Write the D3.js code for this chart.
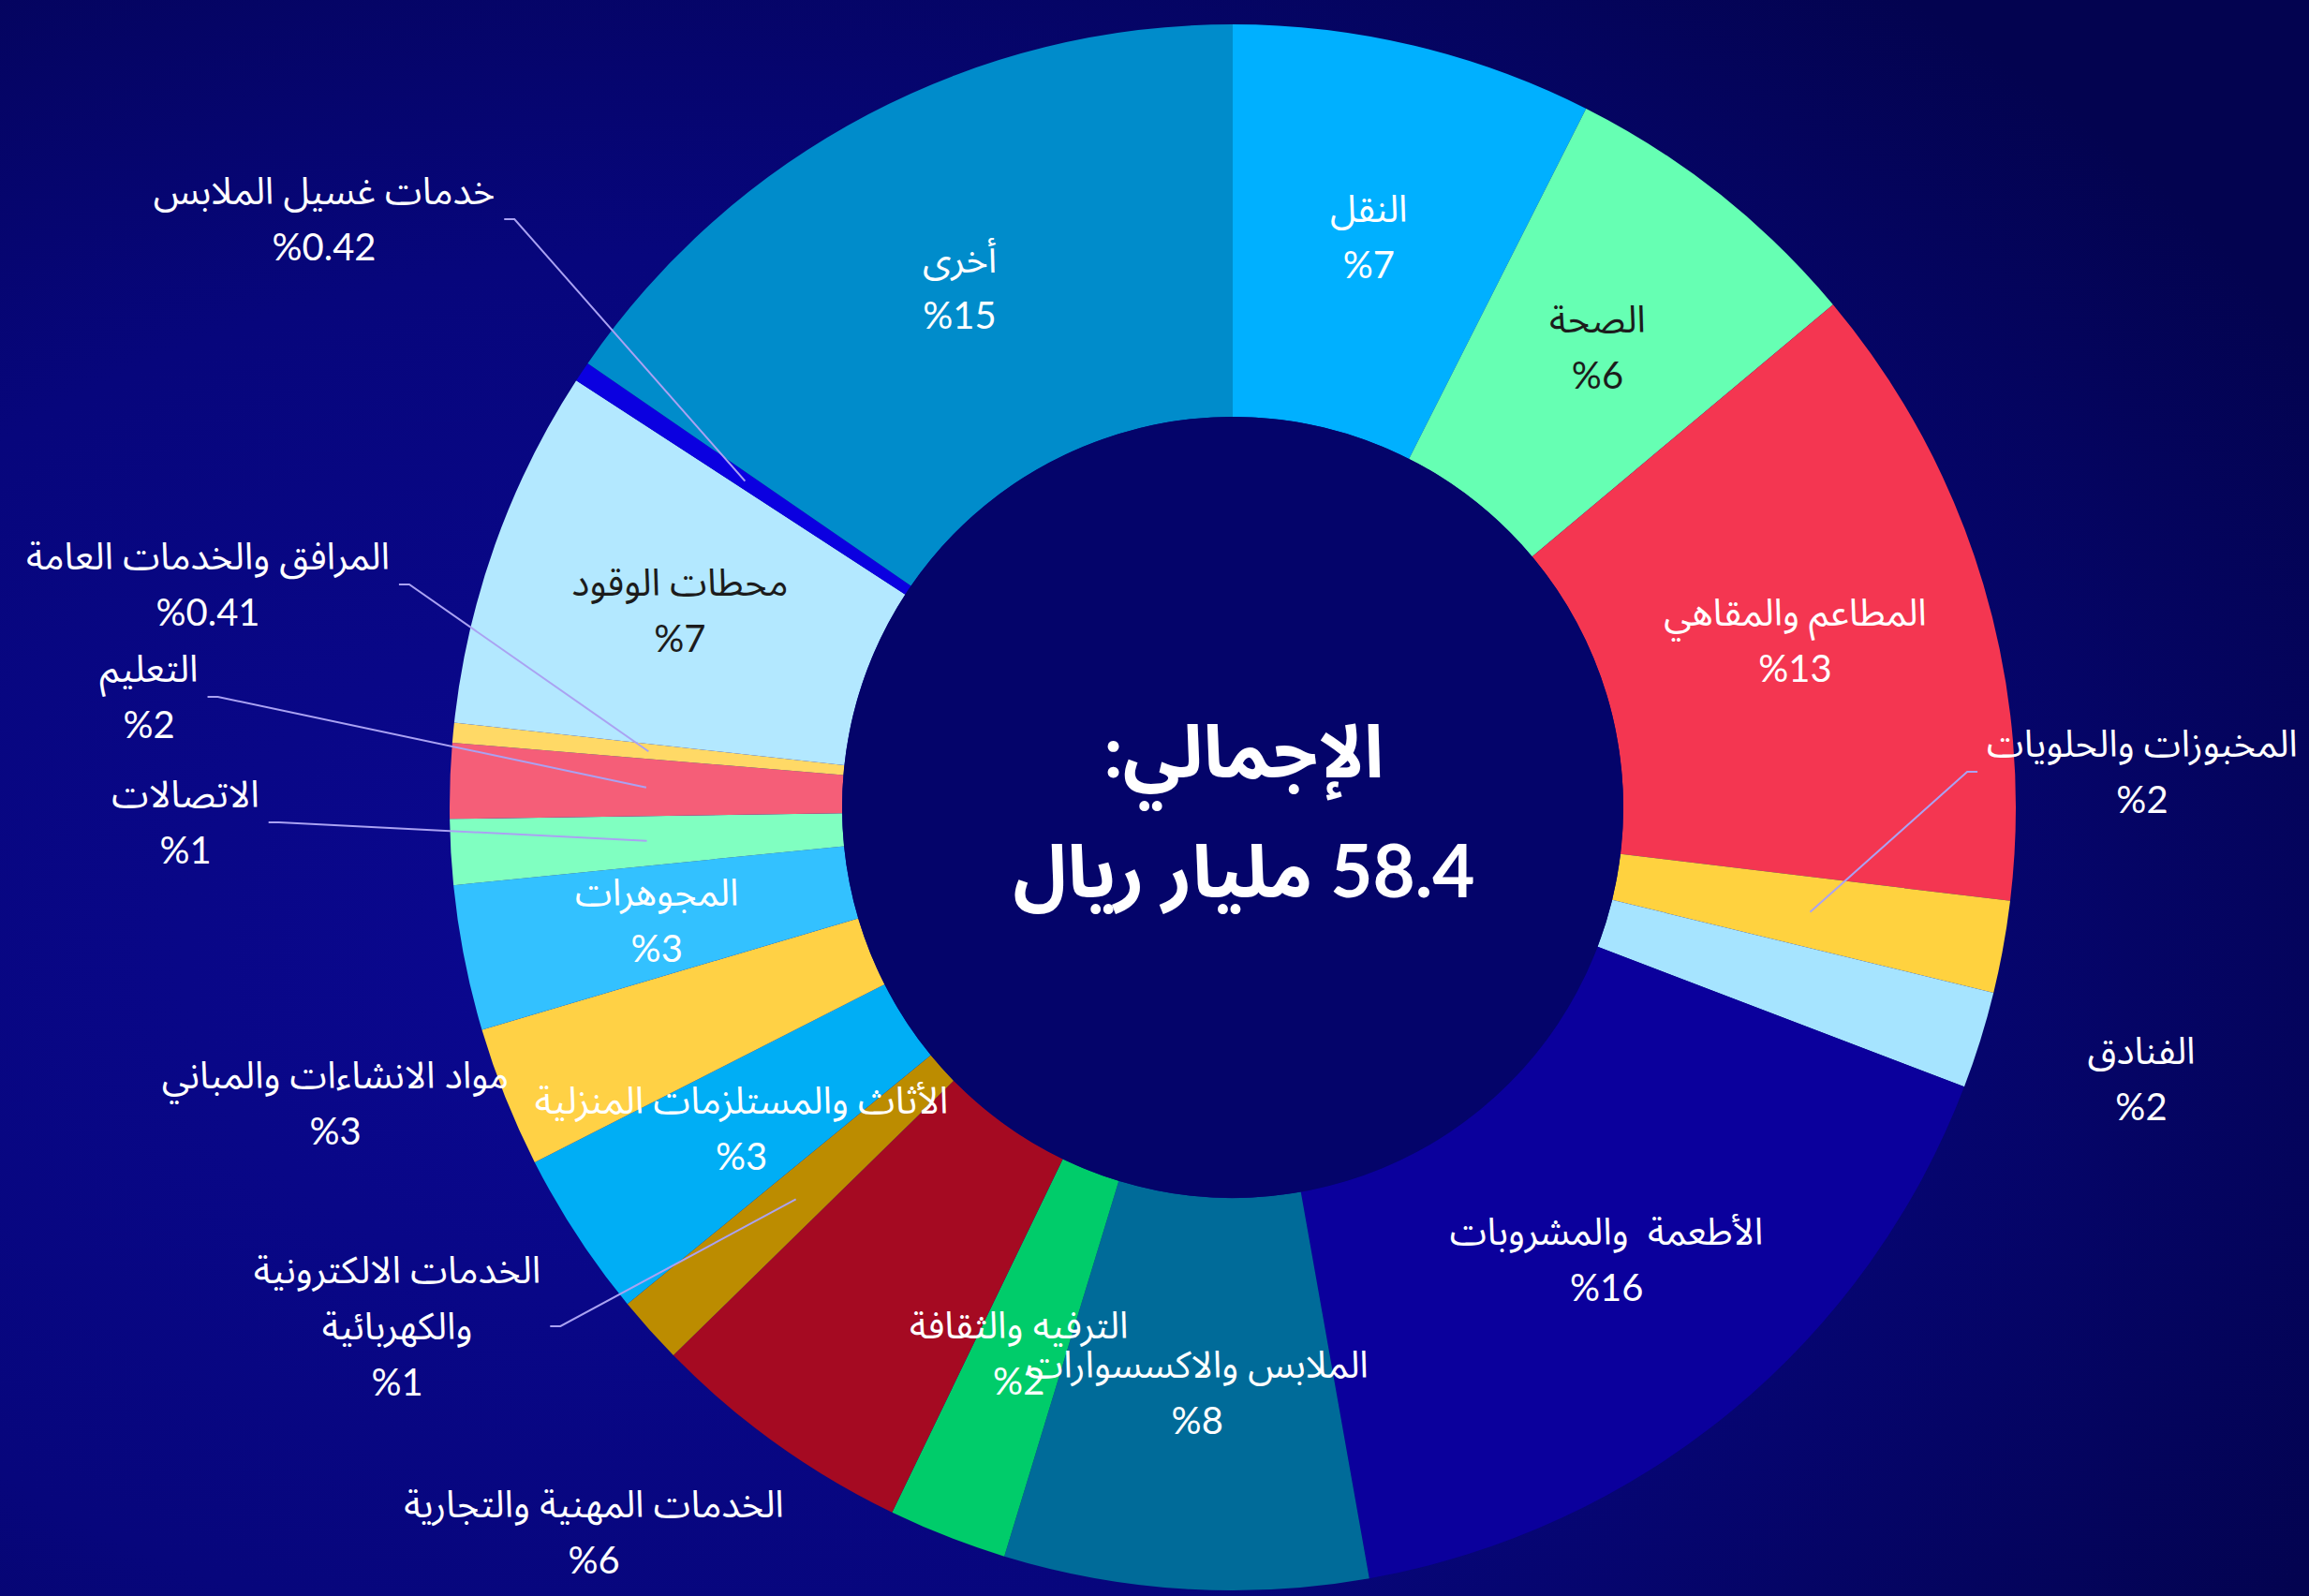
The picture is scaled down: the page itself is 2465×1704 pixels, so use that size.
<!DOCTYPE html>
<html lang="ar">
<head>
<meta charset="utf-8">
<script src="https://cdn.jsdelivr.net/npm/d3@7"></script>
<style>
  html, body { margin: 0; padding: 0; background: #05056e; overflow: hidden; }
  svg { display: block; }
  text { font-family: Lato, "Noto Sans Arabic", "DejaVu Sans", sans-serif; white-space: pre; }
</style>
</head>
<body>
<svg id="chart"></svg>
<script>
// sectors, clockwise from 12 o'clock
var sectors = [
  "النقل", "الصحة", "المطاعم والمقاهي", "المخبوزات والحلويات", "الفنادق",
  "الأطعمة  والمشروبات", "الملابس والاكسسوارات", "الترفيه والثقافة",
  "الخدمات المهنية والتجارية", "الخدمات الالكترونية والكهربائية",
  "الأثاث والمستلزمات المنزلية", "مواد الانشاءات والمباني", "المجوهرات",
  "الاتصالات", "التعليم", "المرافق والخدمات العامة", "محطات الوقود",
  "خدمات غسيل الملابس", "أخرى"
];
// share of total spending (%)
var shares = [7.45, 6.45, 13.0, 1.9, 2.0, 16.4, 7.5, 2.45, 5.5, 1.4, 3.45, 2.9, 3.0, 1.35, 1.55, 0.41, 7.45, 0.42, 15.4];
var sliceColors = [
  "#00b0ff", "#66ffb3", "#f43651", "#ffd23f", "#a6e4ff",
  "#0b009c", "#006b99", "#00cc6a", "#a50a22", "#bc8c00",
  "#00aef5", "#ffd145", "#33c1ff", "#80ffc1", "#f55e78",
  "#ffd966", "#b3e8ff", "#0b00e0", "#008ccb"
];
var darkText = ["الصحة", "محطات الوقود"];
var totalTitle = "الإجمالي:";
var totalValue = "58.4 مليار ريال";

var width = 2465, height = 1704;
var cx = 1316, cy = 862;
var rOuter = 836, rInner = 417;
var fontSize = 40, lineGap = 30;

// labels that sit outside the ring (offsets from the centre)
var outside = {
  3:  {x: 971,   y: -38,  leader: true},
  4:  {x: 970,   y: 290},
  8:  {x: -682,  y: 774},
  9:  {x: -892,  y: 554,  leader: true, wrap: true},
  11: {x: -958,  y: 316},
  13: {x: -1118, y: 16,   leader: true},
  14: {x: -1157, y: -118, leader: true},
  15: {x: -1094, y: -238, leader: true},
  17: {x: -970,  y: -628, leader: true}
};

function pctText(v) { return "%" + (v < 1 ? v.toFixed(2) : Math.round(v)); }

var svg = d3.select("#chart").attr("width", width).attr("height", height);

// background
var defs = svg.append("defs");
var bg = defs.append("radialGradient").attr("id", "bg")
    .attr("cx", "30%").attr("cy", "60%").attr("r", "80%");
bg.append("stop").attr("offset", "0%").attr("stop-color", "#0b0892");
bg.append("stop").attr("offset", "55%").attr("stop-color", "#07067c");
bg.append("stop").attr("offset", "100%").attr("stop-color", "#030350");
svg.append("rect").attr("width", width).attr("height", height).attr("fill", "url(#bg)");

var g = svg.append("g").attr("transform", "translate(" + cx + "," + cy + ")");

var pie = d3.pie().sort(null).value(d => d.value);
var arc = d3.arc().innerRadius(rInner).outerRadius(rOuter);
var data = sectors.map((s, i) => ({ name: s, value: shares[i], color: sliceColors[i] }));
var arcs = pie(data);

g.selectAll("path.slice")
  .data(arcs).enter()
  .append("path")
  .attr("class", "slice")
  .attr("d", arc)
  .attr("fill", d => d.data.color);

// inner disc
g.append("circle").attr("r", rInner).attr("fill", "#04046a");

// labels
var labels = g.append("g");
arcs.forEach((d, i) => {
  var o = outside[i];
  var c = arc.centroid(d);
  var ax = o ? o.x : c[0], ay = o ? o.y : c[1];
  var lines = [d.data.name];
  if (o && o.wrap) {
    var w = d.data.name.split(" ");
    lines = [w.slice(0, -1).join(" "), w[w.length - 1]];
  }
  lines.push(pctText(d.data.value));
  var fill = (!o && darkText.indexOf(d.data.name) >= 0) ? "#1c1c1c" : "#ffffff";
  var y0 = ay - lineGap * (lines.length - 1);
  var t = labels.append("text")
    .attr("text-anchor", "middle")
    .attr("direction", "rtl")
    .attr("font-size", fontSize)
    .attr("fill", fill);
  lines.forEach((ln, k) => {
    t.append("tspan").attr("x", ax).attr("y", y0 + k * 2 * lineGap).attr("dy", "0.35em").text(ln);
  });

  if (o && o.leader) {
    var bw = t.node().getBBox().width;
    var side = o.x < 0 ? 1 : -1;
    var x1 = ax + side * (bw / 2 + 10);
    var x2 = x1 + side * 11;
    g.append("path")
      .attr("d", d3.line()([[x1, ay], [x2, ay], c]))
      .attr("fill", "none")
      .attr("stroke", "#aaa2f2")
      .attr("stroke-width", 2);
  }
});

// total in the centre
var centre = g.append("text")
  .attr("text-anchor", "middle")
  .attr("direction", "rtl")
  .attr("font-weight", "bold")
  .attr("font-size", 78)
  .attr("fill", "#ffffff");
centre.append("tspan").attr("x", 12).attr("y", -32).text(totalTitle);
centre.append("tspan").attr("x", 12).attr("y", 96).text(totalValue);
</script>
</body>
</html>
